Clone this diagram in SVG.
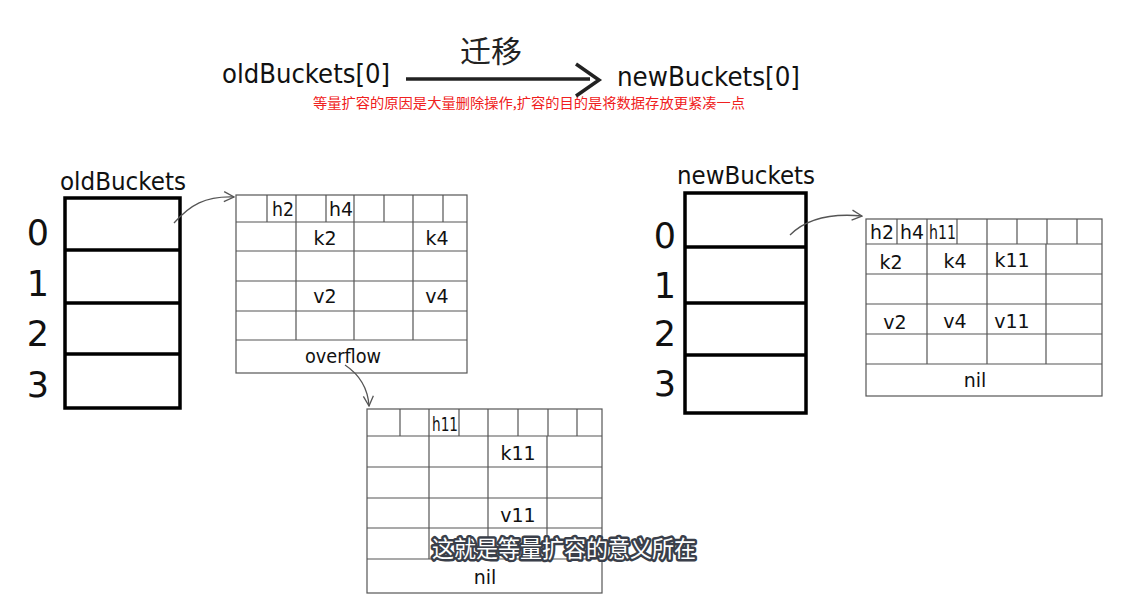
<svg xmlns="http://www.w3.org/2000/svg" width="1134" height="594" viewBox="0 0 1134 594">
<defs>
<style>
.t{font-family:"DejaVu Sans","Liberation Sans",sans-serif;fill:#111;}
.cell{font-size:19px;}
.idx{font-size:35px;}
.grid{fill:#fff;stroke:#555;stroke-width:1.2;}
.gl{stroke:#555;stroke-width:1.2;}
.bk{fill:#fff;stroke:#000;stroke-width:3.5;}
.bl{stroke:#000;stroke-width:3.5;}
.con{fill:none;stroke:#555;stroke-width:1.3;}
</style>
<marker id="ah" viewBox="0 0 12 12" refX="11" refY="6" markerWidth="12" markerHeight="12" markerUnits="userSpaceOnUse" orient="auto">
<path d="M1,1 L11,6 L1,11" fill="none" stroke="#555" stroke-width="1.3"/>
</marker>
</defs>
<rect width="1134" height="594" fill="#fff"/>

<g id="title">
<text class="t" x="222" y="83" font-size="27" textLength="168" lengthAdjust="spacingAndGlyphs">oldBuckets[0]</text>
<text x="460" y="62" font-size="30" font-family="'Noto Sans CJK SC',sans-serif" fill="#222" textLength="62" lengthAdjust="spacingAndGlyphs">迁移</text>
<text class="t" x="617" y="86" font-size="27" textLength="183" lengthAdjust="spacingAndGlyphs">newBuckets[0]</text>
<text x="313" y="108" font-size="13.5" font-family="'Noto Sans CJK SC',sans-serif" fill="#f02020" textLength="432" lengthAdjust="spacingAndGlyphs">等量扩容的原因是大量删除操作,扩容的目的是将数据存放更紧凑一点</text>
</g>

<g id="oldBuckets">
<text class="t" x="60" y="190" font-size="24" textLength="126" lengthAdjust="spacingAndGlyphs">oldBuckets</text>
<rect class="bk" x="65" y="198" width="115" height="210"/>
<line class="bl" x1="65" y1="250" x2="180" y2="250"/>
<line class="bl" x1="65" y1="303" x2="180" y2="303"/>
<line class="bl" x1="65" y1="354" x2="180" y2="354"/>
<text class="t idx" x="38" y="245" text-anchor="middle">0</text>
<text class="t idx" x="38" y="296" text-anchor="middle">1</text>
<text class="t idx" x="38" y="346" text-anchor="middle">2</text>
<text class="t idx" x="38" y="397" text-anchor="middle">3</text>
</g>

<g id="oldBmap">
<rect class="grid" x="236" y="195" width="231" height="178"/>
<path class="gl" d="M236,222H467M236,251H467M236,281H467M236,311H467M236,340H467M267,195V222M296,195V222M326,195V222M354,195V222M384,195V222M413,195V222M443,195V222M296,222V340M354,222V340M413,222V340"/>
<text class="t cell" x="272" y="216" textLength="22" lengthAdjust="spacingAndGlyphs">h2</text>
<text class="t cell" x="329" y="216" textLength="24" lengthAdjust="spacingAndGlyphs">h4</text>
<text class="t cell" x="325" y="245" text-anchor="middle">k2</text>
<text class="t cell" x="437" y="245" text-anchor="middle">k4</text>
<text class="t cell" x="325" y="303" text-anchor="middle">v2</text>
<text class="t cell" x="437" y="303" text-anchor="middle">v4</text>
<text class="t cell" x="343" y="363" text-anchor="middle" textLength="76" lengthAdjust="spacingAndGlyphs">overflow</text>
</g>

<g id="overflowBmap">
<rect class="grid" x="367" y="409" width="235" height="184"/>
<path class="gl" d="M367,436H602M367,467H602M367,498H602M367,528H602M367,559H602M400,409V436M429,409V436M459,409V436M488,409V436M518,409V436M548,409V436M577,409V436M429,436V559M488,436V559M547,436V559"/>
<text class="t cell" x="432" y="431" textLength="26" lengthAdjust="spacingAndGlyphs">h11</text>
<text class="t cell" x="518" y="460" text-anchor="middle">k11</text>
<text class="t cell" x="518" y="522" text-anchor="middle">v11</text>
<text class="t cell" x="485" y="584" text-anchor="middle">nil</text>
</g>

<g id="newBuckets">
<text class="t" x="677" y="184" font-size="24" textLength="138" lengthAdjust="spacingAndGlyphs">newBuckets</text>
<rect class="bk" x="685" y="193" width="121" height="220"/>
<line class="bl" x1="685" y1="247" x2="806" y2="247"/>
<line class="bl" x1="685" y1="303" x2="806" y2="303"/>
<line class="bl" x1="685" y1="355" x2="806" y2="355"/>
<text class="t idx" x="665" y="248" text-anchor="middle">0</text>
<text class="t idx" x="665" y="298" text-anchor="middle">1</text>
<text class="t idx" x="665" y="346" text-anchor="middle">2</text>
<text class="t idx" x="665" y="396" text-anchor="middle">3</text>
</g>

<g id="newBmap">
<rect class="grid" x="866" y="219" width="236" height="177"/>
<path class="gl" d="M866,244H1102M866,274H1102M866,304H1102M866,334H1102M866,364H1102M897,219V244M927,219V244M957,219V244M987,219V244M1017,219V244M1047,219V244M1077,219V244M927,244V364M987,244V364M1046,244V364"/>
<text class="t cell" x="870" y="239" textLength="24" lengthAdjust="spacingAndGlyphs">h2</text>
<text class="t cell" x="900" y="239" textLength="24" lengthAdjust="spacingAndGlyphs">h4</text>
<text class="t cell" x="929" y="239" textLength="27" lengthAdjust="spacingAndGlyphs">h11</text>
<text class="t cell" x="891" y="269" text-anchor="middle">k2</text>
<text class="t cell" x="955" y="268" text-anchor="middle">k4</text>
<text class="t cell" x="1012" y="267" text-anchor="middle">k11</text>
<text class="t cell" x="895" y="329" text-anchor="middle">v2</text>
<text class="t cell" x="955" y="328" text-anchor="middle">v4</text>
<text class="t cell" x="1012" y="328" text-anchor="middle">v11</text>
<text class="t cell" x="975" y="387" text-anchor="middle">nil</text>
</g>

<g id="connectors">
<path d="M406,79 H590" fill="none" stroke="#222" stroke-width="3.5"/>
<path d="M576,64 L599,80 L576,96" fill="none" stroke="#222" stroke-width="3.5"/>
<path class="con" d="M174,223 C190,205 205,196 234,197" marker-end="url(#ah)"/>
<path class="con" d="M345,365 C360,375 368,390 369,406" marker-end="url(#ah)"/>
<path class="con" d="M790,235 C805,220 830,213 862,216" marker-end="url(#ah)"/>
</g>

<g id="subtitle">
<text x="432" y="557" font-size="23" font-family="'Noto Sans CJK SC',sans-serif" fill="#fff" stroke="#3a3f4a" stroke-width="5" stroke-linejoin="round" paint-order="stroke" textLength="264" lengthAdjust="spacingAndGlyphs">这就是等量扩容的意义所在</text>
</g>
</svg>
